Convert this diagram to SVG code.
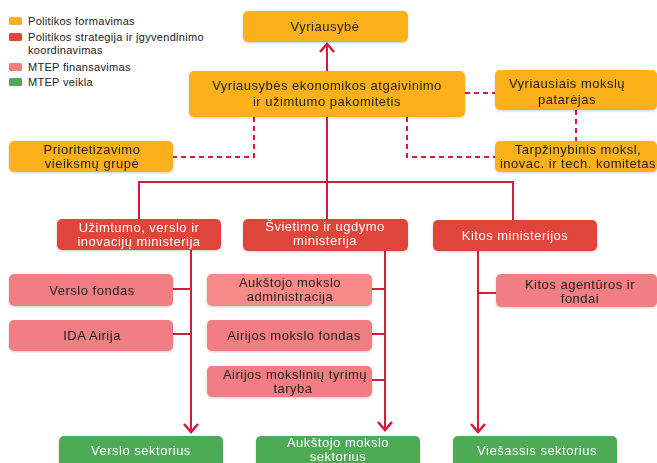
<svg xmlns="http://www.w3.org/2000/svg" width="657" height="463" viewBox="0 0 657 463">
<defs>
<style>
text{font-family:"Liberation Sans",Arial,sans-serif;}
.leg{font-size:11px;fill:#222;letter-spacing:0.3px;}
.t{font-size:13px;fill:#222;text-anchor:middle;letter-spacing:0.5px;}
.tw{font-size:13px;fill:#fff;text-anchor:middle;letter-spacing:0.5px;}
.or{fill:#FBB01E;}
.rd{fill:#E0453A;}
.pk{fill:#F07E83;}
.pk2{fill:#F98986;}
.gr{fill:#4DAA55;}
.box{filter:url(#sh);}
.ln{stroke:#D81B3C;stroke-width:2;fill:none;}
.ds{stroke:#D81B3C;stroke-width:2;fill:none;stroke-dasharray:5 4;}
</style>
<filter id="sh" x="-10%" y="-10%" width="120%" height="130%">
<feDropShadow dx="0" dy="1" stdDeviation="1" flood-color="#000" flood-opacity="0.2"/>
</filter>
<marker id="ar" viewBox="-10 -9 12 20" refX="0" refY="0" markerWidth="12" markerHeight="20" markerUnits="userSpaceOnUse" orient="auto">
<path d="M-8,-7 L0,0 L-8,7" stroke="#D81B3C" stroke-width="2.5" fill="none"/>
</marker>
</defs>
<rect width="657" height="463" fill="#fff"/>

<g id="legend">
<rect x="9" y="17" width="13" height="8" rx="1.5" class="or"/>
<text x="28" y="25" class="leg">Politikos formavimas</text>
<rect x="9" y="33" width="13" height="8" rx="1.5" class="rd"/>
<text x="28" y="41" class="leg">Politikos strategija ir įgyvendinimo</text>
<text x="28" y="54" class="leg">koordinavimas</text>
<rect x="9" y="63" width="13" height="8" rx="1.5" class="pk"/>
<text x="28" y="71" class="leg">MTEP finansavimas</text>
<rect x="9" y="78" width="13" height="8" rx="1.5" class="gr"/>
<text x="28" y="86" class="leg">MTEP veikla</text>
</g>

<g id="connectors">
<line x1="327" y1="71" x2="327" y2="44" class="ln" marker-end="url(#ar)"/>
<path d="M327,117 V219 M139,219 V182 H513 V220" class="ln"/>
<line x1="465" y1="93" x2="495" y2="93" class="ds"/>
<line x1="576" y1="110" x2="576" y2="141" class="ds"/>
<path d="M407,117 V157 H495" class="ds"/>
<path d="M254,117 V157 H173" class="ds"/>
<line x1="191" y1="250" x2="191" y2="432" class="ln" marker-end="url(#ar)"/>
<path d="M173,289 H191 M173,334 H191" class="ln"/>
<line x1="385" y1="251" x2="385" y2="430" class="ln" marker-end="url(#ar)"/>
<path d="M372,289 H385 M372,334 H385 M372,380 H385" class="ln"/>
<line x1="478" y1="251" x2="478" y2="432" class="ln" marker-end="url(#ar)"/>
<path d="M478,293 H496" class="ln"/>
</g>

<g id="vyriausybe" class="box">
<rect x="243" y="11" width="165" height="31" rx="5" class="or"/>
<text x="325" y="31" class="t">Vyriausybė</text>
</g>
<g id="pakomitetis" class="box">
<rect x="189" y="71" width="276" height="46" rx="5" class="or"/>
<text x="327" y="90" class="t">Vyriausybės ekonomikos atgaivinimo</text>
<text x="327" y="106" class="t">ir užimtumo pakomitetis</text>
</g>
<g id="patarejas" class="box">
<rect x="495" y="70" width="162" height="40" rx="5" class="or"/>
<text x="567" y="88" class="t">Vyriausiais mokslų</text>
<text x="567" y="104" class="t">patarėjas</text>
</g>
<g id="komitetas" class="box">
<rect x="495" y="141" width="162" height="31" rx="5" class="or"/>
<text x="578" y="154" class="t">Tarpžinybinis moksl,</text>
<text x="578" y="168" class="t">inovac. ir tech. komitetas</text>
</g>
<g id="prioritetizavimo" class="box">
<rect x="9" y="141" width="164" height="31" rx="5" class="or"/>
<text x="92" y="154" class="t">Prioritetizavimo</text>
<text x="92" y="168" class="t">vieiksmų grupė</text>
</g>

<g id="uzimtumo" class="box">
<rect x="57" y="219" width="164" height="31" rx="5" class="rd"/>
<text x="139" y="232" class="tw">Užimtumo, verslo ir</text>
<text x="139" y="246" class="tw">inovacijų ministerija</text>
</g>
<g id="svietimo" class="box">
<rect x="243" y="219" width="165" height="32" rx="5" class="rd"/>
<text x="325" y="231" class="tw">Švietimo ir ugdymo</text>
<text x="325" y="245" class="tw">ministerija</text>
</g>
<g id="kitos" class="box">
<rect x="433" y="220" width="164" height="31" rx="5" class="rd"/>
<text x="515" y="240" class="tw">Kitos ministerijos</text>
</g>

<g id="verslo-fondas" class="box">
<rect x="9" y="274" width="164" height="32" rx="5" class="pk"/>
<text x="92" y="295" class="t">Verslo fondas</text>
</g>
<g id="ida" class="box">
<rect x="9" y="320" width="164" height="31" rx="5" class="pk"/>
<text x="92" y="340" class="t">IDA Airija</text>
</g>
<g id="amadmin" class="box">
<rect x="207" y="274" width="165" height="32" rx="5" class="pk2"/>
<text x="290" y="287" class="t">Aukštojo mokslo</text>
<text x="290" y="301" class="t">administracija</text>
</g>
<g id="amfondas" class="box">
<rect x="207" y="320" width="165" height="31" rx="5" class="pk"/>
<text x="294" y="340" class="t">Airijos mokslo fondas</text>
</g>
<g id="taryba" class="box">
<rect x="207" y="366" width="165" height="31" rx="5" class="pk"/>
<text x="295" y="379" class="t">Airijos mokslinių tyrimų</text>
<text x="293" y="393" class="t">taryba</text>
</g>
<g id="agenturos" class="box">
<rect x="496" y="274" width="161" height="33" rx="5" class="pk"/>
<text x="580" y="289" class="t">Kitos agentūros ir</text>
<text x="580" y="303" class="t">fondai</text>
</g>

<g id="verslo-sektorius" class="box">
<rect x="59" y="436" width="164" height="34" rx="5" class="gr"/>
<text x="141" y="455" class="tw">Verslo sektorius</text>
</g>
<g id="am-sektorius" class="box">
<rect x="256" y="436" width="164" height="34" rx="5" class="gr"/>
<text x="338" y="447" class="tw">Aukštojo mokslo</text>
<text x="338" y="461" class="tw">sektorius</text>
</g>
<g id="viesasis" class="box">
<rect x="453" y="436" width="164" height="34" rx="5" class="gr"/>
<text x="537" y="455" class="tw">Viešassis sektorius</text>
</g>
</svg>
